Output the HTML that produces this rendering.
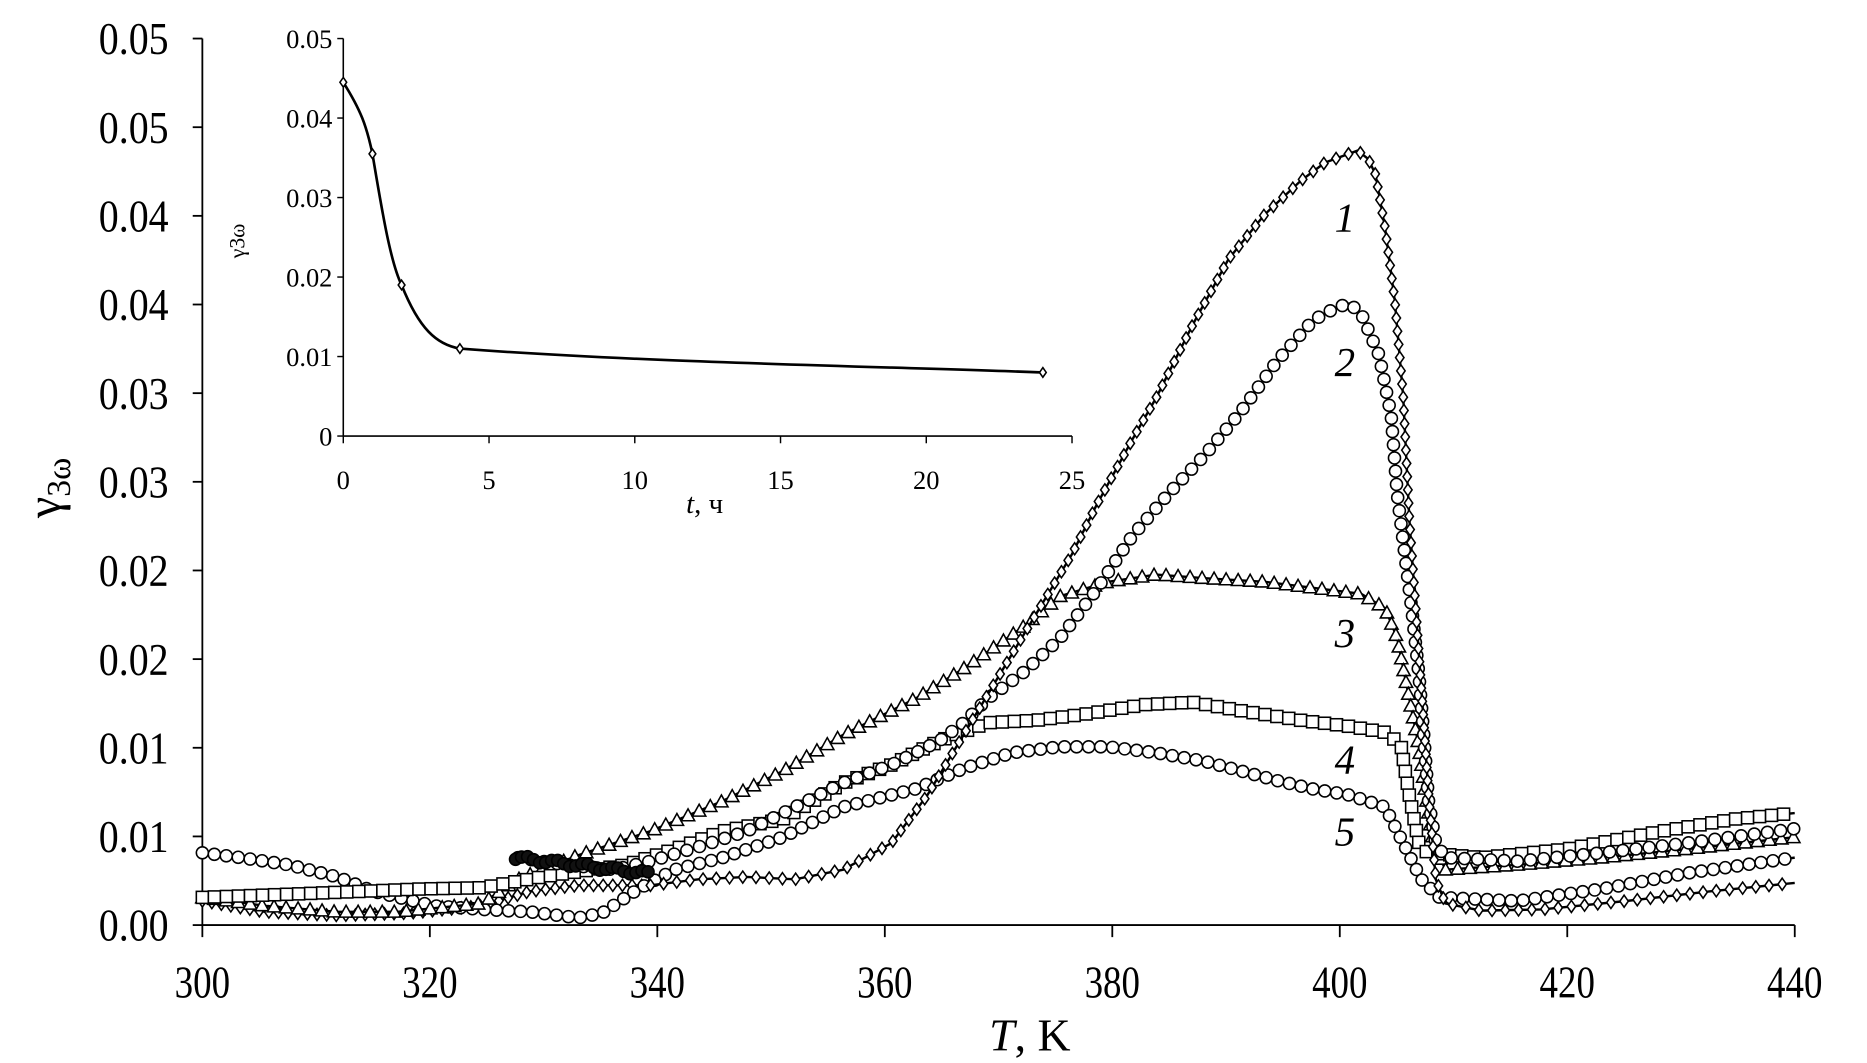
<!DOCTYPE html>
<html><head><meta charset="utf-8"><style>
html,body{margin:0;padding:0;background:#fff;}
svg{display:block;}
text{font-family:"Liberation Serif",serif;fill:#000;}
</style></head><body>
<svg id="s" width="1867" height="1063" viewBox="0 0 1550 882.5" preserveAspectRatio="none" xmlns="http://www.w3.org/2000/svg">
<g stroke="#000" stroke-width="1.5" fill="none">
<line x1="168" y1="32" x2="168" y2="768"/>
<line x1="168" y1="768" x2="1490" y2="768"/>
</g>
<g id="ticks" stroke="#000" stroke-width="1.5"></g>
<g id="lbl" font-size="38"></g>
<text x="50" y="405" font-size="40" transform="rotate(-90 50 405)" text-anchor="middle">γ<tspan font-size="28" dy="8">3ω</tspan></text>
<text x="855" y="872" font-size="38" text-anchor="middle"><tspan font-style="italic">T</tspan>, K</text>
<!-- inset -->
<g stroke="#000" stroke-width="1.3" fill="none">
<line x1="285" y1="32" x2="285" y2="362"/>
<line x1="285" y1="362" x2="890" y2="362"/>
</g>
<g id="iticks" stroke="#000" stroke-width="1.2"></g>
<g id="ilbl" font-size="22"></g>
<text x="203" y="200" font-size="18" transform="rotate(-90 203 200)" text-anchor="middle">γ3ω</text>
<text x="585" y="426" font-size="24" text-anchor="middle"><tspan font-style="italic">t</tspan>, ч</text>
<path id="ic" fill="none" stroke="#000" stroke-width="2.2"/>
<g id="data"></g>
<g font-size="34" font-style="italic">
<text x="1108" y="192">1</text>
<text x="1108" y="312">2</text>
<text x="1108" y="537">3</text>
<text x="1108" y="642">4</text>
<text x="1108" y="702">5</text>
</g>
</svg>
<script>
var NS="http://www.w3.org/2000/svg";
function el(t,a,p){var e=document.createElementNS(NS,t);for(var k in a)e.setAttribute(k,a[k]);p.appendChild(e);return e;}
var tk=document.getElementById('ticks'),lb=document.getElementById('lbl');
var yl=["0.00","0.01","0.01","0.02","0.02","0.03","0.03","0.04","0.04","0.05","0.05"];
for(var i=0;i<=10;i++){var y=768-i*73.6;el('line',{x1:160,y1:y,x2:168,y2:y},tk);
var t=el('text',{x:140,y:y+13,'text-anchor':'end',textLength:58,lengthAdjust:'spacingAndGlyphs'},lb);t.textContent=yl[i];}
for(var i=0;i<=7;i++){var x=168+i*188.86;el('line',{x1:x,y1:768,x2:x,y2:778},tk);
var t=el('text',{x:x,y:828,'text-anchor':'middle',textLength:46,lengthAdjust:'spacingAndGlyphs'},lb);t.textContent=300+20*i;}
var it=document.getElementById('iticks'),il=document.getElementById('ilbl');
for(var i=0;i<=5;i++){var y=362-i*66;el('line',{x1:280,y1:y,x2:285,y2:y},it);
var t=el('text',{x:276,y:y+8,'text-anchor':'end'},il);t.textContent=i==0?"0":(i/100).toFixed(2);}
for(var i=0;i<=5;i++){var x=285+i*121;el('line',{x1:x,y1:362,x2:x,y2:368},it);
var t=el('text',{x:x,y:406,'text-anchor':'middle'},il);t.textContent=i*5;}
// inset curve
function iy(v){return 362-v*6600;}function ix(t){return 285+t*24.2;}
var ip=[[0,0.0445],[1,0.0355],[2,0.019],[4,0.011],[24,0.008]];
document.getElementById('ic').setAttribute('d',
"M"+ix(0)+","+iy(0.0445)+" C"+ix(0.6)+","+iy(0.041)+" "+ix(0.8)+","+iy(0.039)+" "+ix(1)+","+iy(0.0355)+
" C"+ix(1.3)+","+iy(0.029)+" "+ix(1.6)+","+iy(0.022)+" "+ix(2)+","+iy(0.019)+
" C"+ix(2.6)+","+iy(0.0135)+" "+ix(3.2)+","+iy(0.0115)+" "+ix(4)+","+iy(0.011)+
" C"+ix(10)+","+iy(0.0093)+" "+ix(18)+","+iy(0.0088)+" "+ix(24)+","+iy(0.008));
var g=document.getElementById('data');
function mk(type,x,y,r,fill){fill=fill||'#fff';
if(type=='d')el('polygon',{points:(x)+","+(y-r)+" "+(x+r*0.7)+","+y+" "+x+","+(y+r)+" "+(x-r*0.7)+","+y,fill:fill,stroke:'#000','stroke-width':1.3},g);
else if(type=='c')el('circle',{cx:x,cy:y,r:r,fill:fill,stroke:'#000','stroke-width':1.3},g);
else if(type=='s')el('rect',{x:x-r,y:y-r,width:2*r,height:2*r,fill:fill,stroke:'#000','stroke-width':1.3},g);
else if(type=='t')el('polygon',{points:x+","+(y-r)+" "+(x+r)+","+(y+r*0.8)+" "+(x-r)+","+(y+r*0.8),fill:fill,stroke:'#000','stroke-width':1.3},g);}
ip.forEach(function(p){mk('d',ix(p[0]),iy(p[1]),4);});
function series(pts,type,r,step){
el('polyline',{points:pts.map(function(p){return p.join(',')}).join(' '),fill:'none',stroke:'#000','stroke-width':2},g);
var acc=0;mk(type,pts[0][0],pts[0][1],r);
for(var i=1;i<pts.length;i++){var a=pts[i-1],b=pts[i],dx=b[0]-a[0],dy=b[1]-a[1],L=Math.hypot(dx,dy),d=step-acc;
while(d<=L){mk(type,a[0]+dx*d/L,a[1]+dy*d/L,r);d+=step;}acc=L-(d-step);}}
var s1=[[540,735],[580,730],[620,728],[660,730],[700,722],[740,700],[770,660],[800,610],[830,560],[860,510],[890,460],[910,420],[940,365],[960,330],[990,270],[1020,215],[1050,178],[1080,150],[1100,135],[1127,125],[1136,132],[1142,145],[1150,190],[1158,250],[1165,330],[1170,430],[1176,515],[1182,600],[1186,660],[1192,730],[1200,750],[1230,756],[1280,755],[1350,748],[1420,740],[1490,733]];
var s0=[[168,748],[220,757],[280,760],[340,758],[400,752],[440,740],[480,735],[540,735]];
var s2=[[430,712],[470,718],[510,722],[540,715],[580,703],[620,690],[660,670],[700,650],[740,635],[780,615],[800,600],[820,580],[850,558],[880,530],[910,490],[940,445],[970,410],[1000,378],[1030,342],[1060,300],[1090,266],[1110,255],[1120,252],[1130,260],[1145,295],[1155,345],[1160,410],[1165,450],[1172,505],[1178,560],[1182,610],[1186,665],[1192,700],[1200,712],[1260,715],[1330,708],[1400,700],[1490,688]];
var s3=[[168,745],[220,752],[280,757],[330,757],[400,750],[430,730],[480,710],[540,690],[600,665],[650,640],[700,610],[760,580],[800,555],[850,520],[880,495],[920,483],[960,477],[1000,480],[1050,483],[1090,488],[1130,493],[1150,505],[1160,530],[1168,570],[1178,620],[1185,670],[1190,700],[1200,722],[1260,718],[1330,712],[1400,705],[1490,695]];
var s4=[[168,745],[250,742],[350,738],[400,737],[450,728],[520,718],[560,705],[600,690],[650,680],[700,650],[740,635],[780,615],[820,600],[860,598],[900,593],[950,585],[990,583],[1030,590],[1080,598],[1120,603],[1150,608],[1163,618],[1170,660],[1178,700],[1185,708],[1230,712],[1300,705],[1380,690],[1440,680],[1490,675]];
var s5=[[168,708],[200,712],[240,718],[280,728],[310,740],[360,752],[400,755],[440,757],[480,762],[500,758],[530,738],[560,722],[600,712],[650,695],[700,670],[740,660],[760,655],[800,638],[840,625],[880,620],[920,620],[960,625],[1000,632],[1030,640],[1060,648],[1090,655],[1120,660],[1150,670],[1160,690],[1170,710],[1180,730],[1195,745],[1260,748],[1330,738],[1400,725],[1490,712]];
series(s0,'d',5,8);
series(s5,'c',5,10);
series(s3,'t',5.5,10);
series(s4,'s',5,10);
series(s2,'c',5,11);
series(s1,'d',5,11);
for(var x=428;x<=540;x+=5){var y=712+(x-428)*0.12+Math.sin(x)*2;mk('c',x,y,5,'#111');}
</script>
</body></html>
